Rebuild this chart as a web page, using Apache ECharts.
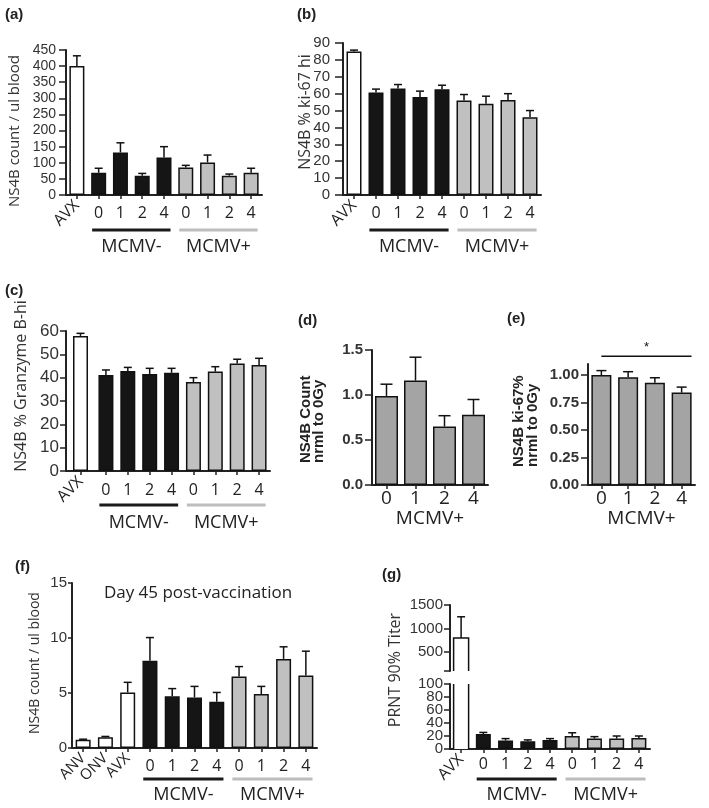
<!DOCTYPE html>
<html><head><meta charset="utf-8">
<script src="https://cdn.jsdelivr.net/npm/echarts@6/dist/echarts.min.js"></script>
<style>html,body{margin:0;padding:0;background:#fff}#c{width:709px;height:808px}</style>
</head><body><div id="c"></div>
<script>
// ---------------- data ----------------
const catsA = ['AVX','0','1','2','4','0','1','2','4'];
const groupsA = ['AVX','MCMV-','MCMV-','MCMV-','MCMV-','MCMV+','MCMV+','MCMV+','MCMV+'];
const aValues = [400, 69, 132, 60, 116, 85, 101, 60, 69];
const aSem    = [32, 14, 30, 7, 34, 7, 23, 5, 14];
const aTicks  = [0,50,100,150,200,250,300,350,400,450];
const bValues = [85, 60.7, 63, 58.1, 62.6, 55.9, 54, 56.3, 46];
const bSem    = [0.8, 2, 2.4, 3.4, 2.4, 3.6, 4.5, 3.7, 4];
const bTicks  = [0,10,20,30,40,50,60,70,80,90];
const cValues = [57.9, 41.1, 42.9, 41.6, 42.1, 38.1, 42.6, 46.1, 45.4];
const cSem    = [1.1, 2.2, 1.5, 2.4, 1.9, 1.9, 2.1, 1.8, 2.9];
const cTicks  = [0,10,20,30,40,50,60];
const catsD   = ['0','1','2','4'];
const dValues = [0.99, 1.16, 0.65, 0.78];
const dSem    = [0.13, 0.26, 0.12, 0.17];
const dTicks  = [0, 0.5, 1.0, 1.5];
const eValues = [1.0, 0.98, 0.93, 0.84];
const eSem    = [0.04, 0.05, 0.045, 0.05];
const eTicks  = [0, 0.25, 0.5, 0.75, 1.0];
const eAxisMax = 1.1;
const catsF   = ['ANV','ONV','AVX','0','1','2','4','0','1','2','4'];
const groupsF = ['ctrl','ctrl','AVX','MCMV-','MCMV-','MCMV-','MCMV-','MCMV+','MCMV+','MCMV+','MCMV+'];
const fValues = [0.75, 0.97, 5.05, 7.94, 4.7, 4.6, 4.2, 6.5, 4.9, 8.1, 6.6];
const fSem    = [0.05, 0.08, 0.92, 2.1, 0.7, 1.0, 0.85, 0.9, 0.7, 1.1, 2.2];
const fTicks  = [0, 5, 10, 15];
const gValues = [800, 23, 13, 12, 14, 20, 16, 16, 17];
const gSem    = [450, 2.5, 3, 2, 2, 5, 3, 4, 3];
const gUpperTicks = [500, 1000, 1500];
const gBreak = 100;
const gLowerTicks = [0, 20, 40, 60, 80, 100];

// ---------------- styles ----------------
const FILL = {AVX:'#ffffff', ctrl:'#ffffff', 'MCMV-':'#151515', 'MCMV+':'#c0c0c0'};
const FILL_DE = '#a4a4a4';
const AX = '#222';
const option = {animation:false, backgroundColor:'#fff', grid:[], xAxis:[], yAxis:[], series:[], graphic:[]};

function addGrid(left, top, width, height){ option.grid.push({left, top, width, height, containLabel:false}); return option.grid.length-1; }
function catAxis(gridIndex, cats, o){
  o = o || {};
  option.xAxis.push({
    type:'category', gridIndex, data:cats, position:'bottom', show: !o.hidden,
    axisLine: o.noLine ? {show:false} : {show:true, onZero:false, lineStyle:{color:AX, width:2}},
    axisTick: o.noLine ? {show:false} : {show:true, alignWithLabel:true, length:4, lineStyle:{color:AX, width:1.5}},
    axisLabel: {show:true, interval:0, hideOverlap:false, margin:o.margin==null?10:o.margin, rotate:o.rotate||0,
      fontFamily:'Open Sans', fontSize:o.fontSize||16, color:'#222', formatter:o.formatter},
    splitLine:{show:false}
  });
  return option.xAxis.length-1;
}
function valAxis(gridIndex, ticks, o){
  o = o || {};
  const ax = {type:'value', gridIndex, position:'left', show: !o.hidden,
    min: o.min==null ? ticks[0] : o.min, max: o.max==null ? ticks[ticks.length-1] : o.max,
    axisLine:{show:!o.noLine, onZero:false, lineStyle:{color:AX, width:2}},
    axisTick:{show:!o.noLine, length:o.tickLen||6, lineStyle:{color:AX, width:1.5}},
    axisLabel:{show:true, showMinLabel:true, showMaxLabel:true, hideOverlap:false,
      margin:o.margin||8, fontFamily:'Liberation Sans', fontSize:o.fontSize||14,
      color:'#333', fontWeight:o.bold?'bold':'normal', formatter:o.formatter || (v => String(v))},
    splitLine:{show:false}};
  if (o.custom) { ax.axisTick.customValues = o.tickValues || ticks; ax.axisLabel.customValues = o.labelValues || ticks; }
  else ax.interval = ticks[1]-ticks[0];
  option.yAxis.push(ax);
  return option.yAxis.length-1;
}
function barSeries(xi, yi, values, fills, barWidth){
  option.series.push({type:'bar', xAxisIndex:xi, yAxisIndex:yi, barWidth, silent:true, z:3,
    data: values.map((v,i)=> v==null ? '-' : {value:v, itemStyle:{color:fills[i]}}),
    itemStyle:{borderColor:'#111', borderWidth:1.5}});
}
function errSeries(xi, yi, values, sem, capW){
  const data = [];
  values.forEach((v,i)=>{ if (v!=null) data.push([i, v, v+sem[i]]); });
  option.series.push({type:'custom', xAxisIndex:xi, yAxisIndex:yi, silent:true, z:2, data,
    encode:{x:0, y:[1,2]},
    renderItem(params, api){
      const x = api.value(0);
      const p0 = api.coord([x, api.value(1)]), p1 = api.coord([x, api.value(2)]);
      const st = {stroke:'#111', lineWidth:1.5};
      return {type:'group', children:[
        {type:'line', shape:{x1:p0[0], y1:p0[1], x2:p1[0], y2:p1[1]}, style:st},
        {type:'line', shape:{x1:p1[0]-capW/2, y1:p1[1], x2:p1[0]+capW/2, y2:p1[1]}, style:st}]};
    }});
}
function brokenBar(xi, yi, idx, value, axMin, axMax, barW, fill){
  option.series.push({type:'custom', xAxisIndex:xi, yAxisIndex:yi, silent:true, z:3,
    data:[[idx, value]], encode:{x:0, y:1},
    renderItem(params, api){
      const x = api.value(0), v = api.value(1);
      const bot = api.coord([x, axMin]), top = api.coord([x, Math.min(v, axMax)]);
      const l = bot[0]-barW/2, r = bot[0]+barW/2;
      const st = {stroke:'#111', lineWidth:1.5, fill:null};
      const ch = [{type:'rect', shape:{x:l, y:top[1], width:barW, height:bot[1]-top[1]}, style:{fill}}];
      if (v <= axMax) ch.push({type:'polyline', shape:{points:[[l,bot[1]],[l,top[1]],[r,top[1]],[r,bot[1]]]}, style:st});
      else ch.push({type:'line', shape:{x1:l,y1:bot[1],x2:l,y2:top[1]}, style:st},
                   {type:'line', shape:{x1:r,y1:bot[1],x2:r,y2:top[1]}, style:st});
      return {type:'group', children:ch};
    }});
}
const rotOnly = (set) => (v,i) => set.includes(i) ? v : '';
const rotSkip = (set) => (v,i) => set.includes(i) ? '' : v;

// ---------------- panel a ----------------
const gA = addGrid(66, 50, 196, 145);
const xA = catAxis(gA, catsA, {formatter:rotSkip([0])});
catAxis(gA, catsA, {noLine:true, rotate:45, margin:8, formatter:rotOnly([0])});
const yA = valAxis(gA, aTicks, {tickLen:7, margin:10, fontSize:14});
barSeries(xA, yA, aValues, groupsA.map(g=>FILL[g]), 15);
errSeries(xA, yA, aValues, aSem, 8);

// ---------------- panel b ----------------
const gB = addGrid(343, 43, 198, 152);
const xB = catAxis(gB, catsA, {formatter:rotSkip([0])});
catAxis(gB, catsA, {noLine:true, rotate:45, margin:8, formatter:rotOnly([0])});
const yB = valAxis(gB, bTicks, {tickLen:8, margin:13, fontSize:15});
barSeries(xB, yB, bValues, groupsA.map(g=>FILL[g]), 15);
errSeries(xB, yB, bValues, bSem, 8);

// ---------------- panel c (AVX set apart from the MCMV groups) ----------------
const gC1 = addGrid(66, 331, 29, 140);
const gC2 = addGrid(95, 331, 175, 140);
const xC1 = catAxis(gC1, catsA.slice(0,1), {rotate:45, margin:8});
const xC2 = catAxis(gC2, catsA.slice(1), {margin:11});
const yC1 = valAxis(gC1, cTicks, {tickLen:6, margin:7, fontSize:17});
const yC2 = valAxis(gC2, cTicks, {hidden:true});
barSeries(xC1, yC1, cValues.slice(0,1), groupsA.slice(0,1).map(g=>FILL[g]), 15);
errSeries(xC1, yC1, cValues.slice(0,1), cSem.slice(0,1), 8);
barSeries(xC2, yC2, cValues.slice(1), groupsA.slice(1).map(g=>FILL[g]), 15);
errSeries(xC2, yC2, cValues.slice(1), cSem.slice(1), 8);

// ---------------- panel d ----------------
const gD = addGrid(372, 350, 116, 135);
const xD = catAxis(gD, catsD, {margin:4, fontSize:19});
const yD = valAxis(gD, dTicks, {tickLen:7, margin:9, fontSize:15, bold:true, formatter:v=>v.toFixed(1)});
barSeries(xD, yD, dValues, dValues.map(()=>FILL_DE), 23);
errSeries(xD, yD, dValues, dSem, 12);

// ---------------- panel e ----------------
const gE = addGrid(588, 364, 107, 121);
const xE = catAxis(gE, catsD, {margin:4, fontSize:19});
const yE = valAxis(gE, eTicks, {max:eAxisMax, custom:true, tickLen:7, margin:9, fontSize:15, bold:true, formatter:v=>v.toFixed(2)});
barSeries(xE, yE, eValues, eValues.map(()=>FILL_DE), 20);
errSeries(xE, yE, eValues, eSem, 10);

// ---------------- panel f ----------------
const gF = addGrid(72, 583, 245, 165);
const xF = catAxis(gF, catsF, {formatter:rotSkip([0,1,2])});
catAxis(gF, catsF, {noLine:true, rotate:45, margin:8, fontSize:15, formatter:rotOnly([0,1,2])});
const yF = valAxis(gF, fTicks, {tickLen:4, margin:5, fontSize:15});
barSeries(xF, yF, fValues, groupsF.map(g=>FILL[g]), 15);
errSeries(xF, yF, fValues, fSem, 8);

// ---------------- panel g (broken axis) ----------------
const gG1 = addGrid(450, 605, 200, 66);
const gG2 = addGrid(450, 684, 200, 65);
const xG1 = catAxis(gG1, catsA, {hidden:true});
const yG1 = valAxis(gG1, gUpperTicks, {min:gBreak, custom:true, tickValues:[gBreak].concat(gUpperTicks), tickLen:6, margin:7, fontSize:15});
const xG2 = catAxis(gG2, catsA, {margin:7, formatter:rotSkip([0])});
catAxis(gG2, catsA, {noLine:true, rotate:45, margin:8, formatter:rotOnly([0])});
// lower segment: the labels are tightly packed, so they are split over two overlaid axes
const yG2 = valAxis(gG2, gLowerTicks, {custom:true, tickValues:gLowerTicks,
  labelValues:gLowerTicks.filter((_,i)=>i%2===0), tickLen:6, margin:7, fontSize:15});
valAxis(gG2, gLowerTicks, {custom:true, noLine:true, tickValues:[],
  labelValues:gLowerTicks.filter((_,i)=>i%2===1), margin:7, fontSize:15});
brokenBar(xG1, yG1, 0, gValues[0], gBreak, gUpperTicks[gUpperTicks.length-1], 15, '#fff');
errSeries(xG1, yG1, gValues.slice(0,1), gSem.slice(0,1), 8);
brokenBar(xG2, yG2, 0, gValues[0], gLowerTicks[0], gBreak, 15, '#fff');
barSeries(xG2, yG2, gValues.map((v,i)=> i===0 ? null : v), groupsA.map(g=>FILL[g]), 15);
errSeries(xG2, yG2, gValues.map((v,i)=> i===0 ? null : v), gSem, 8);

// ---------------- static texts ----------------
function txt(text, x, y, font, o){
  o = o || {};
  option.graphic.push({type:'text', x, y, rotation:o.rot||0, silent:true, z:10,
    style:{text, font, fill:o.fill||'#222', align:o.align||'left', verticalAlign:o.valign||'middle', lineHeight:o.lh}});
}
const LBL = 'bold 15px "Liberation Sans"';
txt('(a)', 5, 15, LBL); txt('(b)', 297, 15, LBL); txt('(c)', 5, 291, LBL);
txt('(d)', 298, 321, LBL); txt('(e)', 507, 319, LBL); txt('(f)', 15, 567, LBL); txt('(g)', 382, 575, LBL);
const R = Math.PI/2;
txt('NS4B count / ul blood', 15, 131, '15px "Open Sans"', {rot:R, align:'center', fill:'#333'});
txt('NS4B % ki-67 hi', 305, 112, '16px "Open Sans"', {rot:R, align:'center', fill:'#333'});
txt('NS4B % Granzyme B-hi', 21, 386, '16px "Open Sans"', {rot:R, align:'center', fill:'#333'});
txt('NS4B Count\nnrml to 0Gy', 312, 463, 'bold 15px "Liberation Sans"', {rot:R, lh:13, fill:'#222'});
txt('NS4B ki-67%\nnrml to 0Gy', 526, 467, 'bold 15px "Liberation Sans"', {rot:R, lh:14, fill:'#222'});
txt('NS4B count / ul blood', 35, 663, '14px "Open Sans"', {rot:R, align:'center', fill:'#333'});
txt('PRNT 90% Titer', 395, 670, '16px "Open Sans"', {rot:R, align:'center', fill:'#333'});
txt('Day 45 post-vaccination', 198, 593, '17px "Open Sans"', {align:'center'});

const chart = echarts.init(document.getElementById('c'), null, {width:709, height:808});
chart.setOption(option);

// ---------------- group annotations (positioned from the axes) ----------------
const px = (xi, i) => chart.convertToPixel({xAxisIndex:xi}, i);
const py = (yi, v) => chart.convertToPixel({yAxisIndex:yi}, v);
const ann = [];
function group(xi, yi, from, to, label, lineColor, lineDy, labelDy, fontSize){
  const w = px(xi, 1) - px(xi, 0);
  const x1 = px(xi, from) - 0.3*w, x2 = px(xi, to) + 0.3*w;
  const base = py(yi, 0);
  if (lineColor) ann.push({type:'line', silent:true, shape:{x1, y1:base+lineDy, x2, y2:base+lineDy}, style:{stroke:lineColor, lineWidth:3}});
  ann.push({type:'text', silent:true, x:(px(xi,from)+px(xi,to))/2, y:base+labelDy,
    style:{text:label, font:(fontSize||18)+'px "Open Sans"', fill:'#222', align:'center', verticalAlign:'middle'}});
}
group(xA, yA, 1, 4, 'MCMV-', '#1a1a1a', 35, 52);
group(xA, yA, 5, 8, 'MCMV+', '#bdbdbd', 35, 52);
group(xB, yB, 1, 4, 'MCMV-', '#1a1a1a', 35, 52);
group(xB, yB, 5, 8, 'MCMV+', '#bdbdbd', 35, 52);
group(xC2, yC2, 0, 3, 'MCMV-', '#1a1a1a', 34, 52);
group(xC2, yC2, 4, 7, 'MCMV+', '#bdbdbd', 34, 52);
group(xD, yD, 0, 3, 'MCMV+', null, 0, 34, 19);
group(xE, yE, 0, 3, 'MCMV+', null, 0, 34, 19);
group(xF, yF, 3, 6, 'MCMV-', '#1a1a1a', 31, 47);
group(xF, yF, 7, 10, 'MCMV+', '#bdbdbd', 31, 47);
group(xG2, yG2, 1, 4, 'MCMV-', '#1a1a1a', 30, 46);
group(xG2, yG2, 5, 8, 'MCMV+', '#bdbdbd', 30, 46);
// significance bar in (e): spans bar 0 to bar 3
{
  const w = px(xE, 1) - px(xE, 0);
  const y = py(yE, 1.17);
  ann.push({type:'line', silent:true, shape:{x1:px(xE,0), y1:y, x2:px(xE,3)+0.37*w, y2:y}, style:{stroke:'#111', lineWidth:1.5}});
  ann.push({type:'text', silent:true, x:(px(xE,0)+px(xE,3)+0.37*w)/2, y:y-9, style:{text:'*', font:'13px "Liberation Sans"', fill:'#111', align:'center', verticalAlign:'middle'}});
}
chart.setOption({graphic: option.graphic.concat(ann)});
</script></body></html>
